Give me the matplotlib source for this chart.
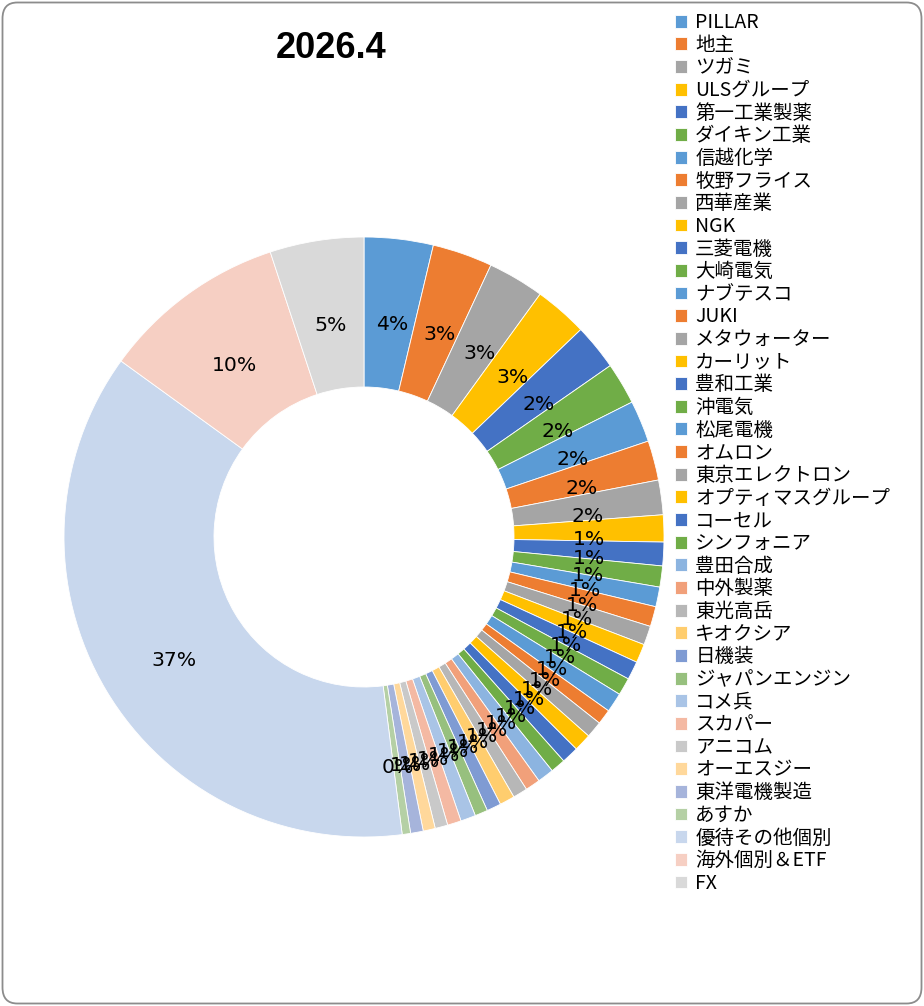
import matplotlib
matplotlib.use('Agg')
import matplotlib.pyplot as plt
from matplotlib.patches import FancyBboxPatch
from matplotlib.transforms import offset_copy

# holdings share, percent
names = ['PILLAR', '地主', 'ツガミ', 'ULSグループ', '第一工業製薬', 'ダイキン工業',
         '信越化学', '牧野フライス', '西華産業', 'NGK', '三菱電機', '大崎電気',
         'ナブテスコ', 'JUKI', 'メタウォーター', 'カーリット', '豊和工業', '沖電気',
         '松尾電機', 'オムロン', '東京エレクトロン', 'オプティマスグループ', 'コーセル', 'シンフォニア',
         '豊田合成', '中外製薬', '東光高岳', 'キオクシア', '日機装', 'ジャパンエンジン',
         'コメ兵', 'スカパー', 'アニコム', 'オーエスジー', '東洋電機製造', 'あすか',
         '優待その他個別', '海外個別＆ETF', 'FX']
shares = [3.71, 3.23, 3.03, 2.86, 2.47, 2.25,
          2.24, 2.13, 1.86, 1.45, 1.27, 1.13,
          1.06, 1.08, 1.02, 1.01, 0.99, 0.94,
          1.05, 0.81, 0.89, 0.95, 0.92, 0.80,
          0.88, 0.80, 0.78, 0.81, 0.77, 0.69,
          0.81, 0.74, 0.68, 0.65, 0.68, 0.45,
          36.95, 9.95, 5.05]

base = ['#5B9BD5', '#ED7D31', '#A5A5A5', '#FFC000', '#4472C4', '#70AD47']
light1 = ['#8CB4E0', '#F1A07A', '#B7B7B7', '#FFCD6E', '#7F9BD3', '#97C07E']
light2 = ['#A9C4E6', '#F4B9A3', '#C9C9C9', '#FFD89B', '#A6B4DB', '#B5D0A5']
light3 = ['#C8D7ED', '#F6CFC3', '#D9D9D9']
colors = base * 4 + light1 + light2 + light3

W, H = 924, 1006
fig = plt.figure(figsize=(W / 100, H / 100), dpi=100)

# outer frame like the Excel chart area
frame = FancyBboxPatch((2.5 / W, 2.5 / H), 1 - 5 / W, 1 - 5 / H,
                       boxstyle='round,pad=0,rounding_size=0.016',
                       transform=fig.transFigure, facecolor='none',
                       edgecolor='#8C8C8C', linewidth=1.3, zorder=5)
fig.patches.append(frame)

cx, cy, R = 364, 537, 300
ax = fig.add_axes([(cx - R) / W, (H - cy - R) / H, 2 * R / W, 2 * R / H])
wedges, texts, autotexts = ax.pie(
    shares, colors=colors, startangle=90, counterclock=False,
    autopct='%.0f%%', pctdistance=0.745,
    wedgeprops=dict(width=0.5, edgecolor='white', linewidth=0.6),
    textprops=dict(fontsize=14.7, family='DejaVu Sans', color='black'))
ax.set_xlim(-1, 1)
ax.set_ylim(-1, 1)
ax.set_aspect('equal')

# Excel puts the data labels a little below the ring's middle line
shifted = offset_copy(ax.transData, fig=fig, x=2, y=-9, units='dots')
for t in autotexts:
    t.set_transform(shifted)

fig.text(331 / W, 1 - 49 / H, '2026.4', ha='center', va='center',
         fontsize=26, fontweight='bold', family='Liberation Sans')

fig.legend(wedges, names, loc='upper left',
           bbox_to_anchor=(675 / W, 1 - 12 / H), frameon=False,
           prop=dict(family=['Noto Sans CJK JP', 'DejaVu Sans'], size=14),
           handlelength=0.64, handleheight=0.64, handletextpad=0.4,
           labelspacing=0.085, borderpad=0, borderaxespad=0)

fig.savefig('out.png', dpi=100)
